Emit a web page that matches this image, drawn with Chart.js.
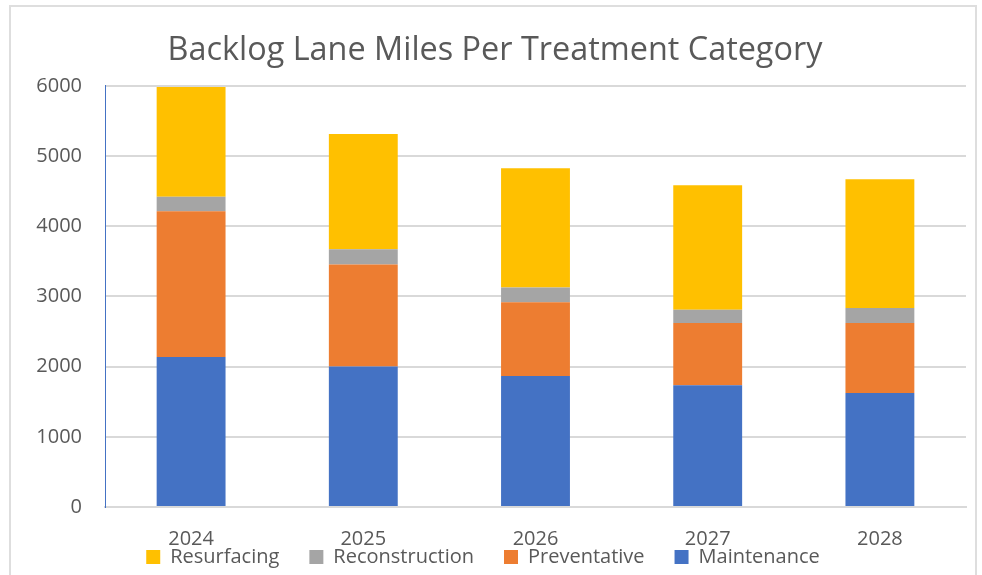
<!DOCTYPE html>
<html>
<head>
<meta charset="utf-8">
<script src="https://cdn.jsdelivr.net/npm/chart.js@4"></script>
<style>
  html, body { margin: 0; padding: 0; background: #ffffff; overflow: hidden; }
  #wrap { position: relative; width: 982px; height: 575px; }
  #frame { position: absolute; left: 9px; top: 5px; width: 968px; height: 600px; border: 2px solid #dedede; box-sizing: border-box; pointer-events: none; }
  canvas { position: absolute; left: 0; top: 0; }
</style>
</head>
<body>
<div id="wrap">
  <div id="frame"></div>
  <canvas id="c" width="982" height="575"></canvas>
</div>
<script>
const years = ['2024', '2025', '2026', '2027', '2028'];
const maintenance    = [2137, 2003, 1866, 1733, 1624];
const preventative   = [2076, 1451, 1053, 887, 996];
const reconstruction = [208, 219, 208, 189, 214];
const resurfacing    = [1564, 1640, 1698, 1774, 1835];
const yTicks = [0, 1000, 2000, 3000, 4000, 5000, 6000];

const textColor = '#595959';
const fontFamily = '"Open Sans", "DejaVu Sans", sans-serif';

const titleShift = {
  id: 'titleShift',
  afterLayout(chart) {
    const t = chart.titleBlock;
    if (t) { t.left = 24; t.right = 966; t.width = t.right - t.left; }
  }
};

new Chart(document.getElementById('c'), {
  type: 'bar',
  plugins: [titleShift],
  data: {
    labels: years,
    datasets: [
      { label: 'Maintenance', data: maintenance, backgroundColor: '#4472C4' },
      { label: 'Preventative', data: preventative, backgroundColor: '#ED7D31' },
      { label: 'Reconstruction', data: reconstruction, backgroundColor: '#A5A5A5' },
      { label: 'Resurfacing', data: resurfacing, backgroundColor: '#FFC000' }
    ]
  },
  options: {
    responsive: false,
    animation: false,
    devicePixelRatio: 1,
    layout: { padding: { left: 0, right: 16, top: 0, bottom: 0 } },
    datasets: { bar: { barPercentage: 0.4, categoryPercentage: 1.0, borderWidth: 0 } },
    plugins: {
      title: {
        display: true,
        text: 'Backlog Lane Miles Per Treatment Category',
        color: textColor,
        font: { family: fontFamily, size: 32.4, weight: 'normal' },
        padding: { top: 31, bottom: 16 }
      },
      legend: {
        position: 'bottom',
        reverse: true,
        maxHeight: 58,
        labels: {
          color: textColor,
          font: { family: fontFamily, size: 20 },
          boxWidth: 14,
          boxHeight: 14,
          padding: 30
        }
      },
      tooltip: { enabled: false }
    },
    scales: {
      x: {
        stacked: true,
        grid: { display: false, drawTicks: false },
        border: { display: true, color: '#d9d9d9', width: 2 },
        ticks: { color: textColor, font: { family: fontFamily, size: 20 }, padding: 20, maxRotation: 0 },
        afterFit: (s) => { s.height = 10; s._computeLabelArea = () => undefined; }
      },
      y: {
        stacked: true,
        min: 0,
        max: 6000,
        afterBuildTicks: (s) => { s.ticks = yTicks.map(v => ({ value: v })); },
        grid: { color: '#d9d9d9', lineWidth: 2, drawTicks: false },
        border: { display: true, color: '#4472C4', width: 1 },
        ticks: { color: textColor, font: { family: fontFamily, size: 20 }, padding: 23, callback: (v) => String(v) },
        afterFit: (s) => { s.width = 105; }
      }
    }
  }
});
</script>
</body>
</html>
